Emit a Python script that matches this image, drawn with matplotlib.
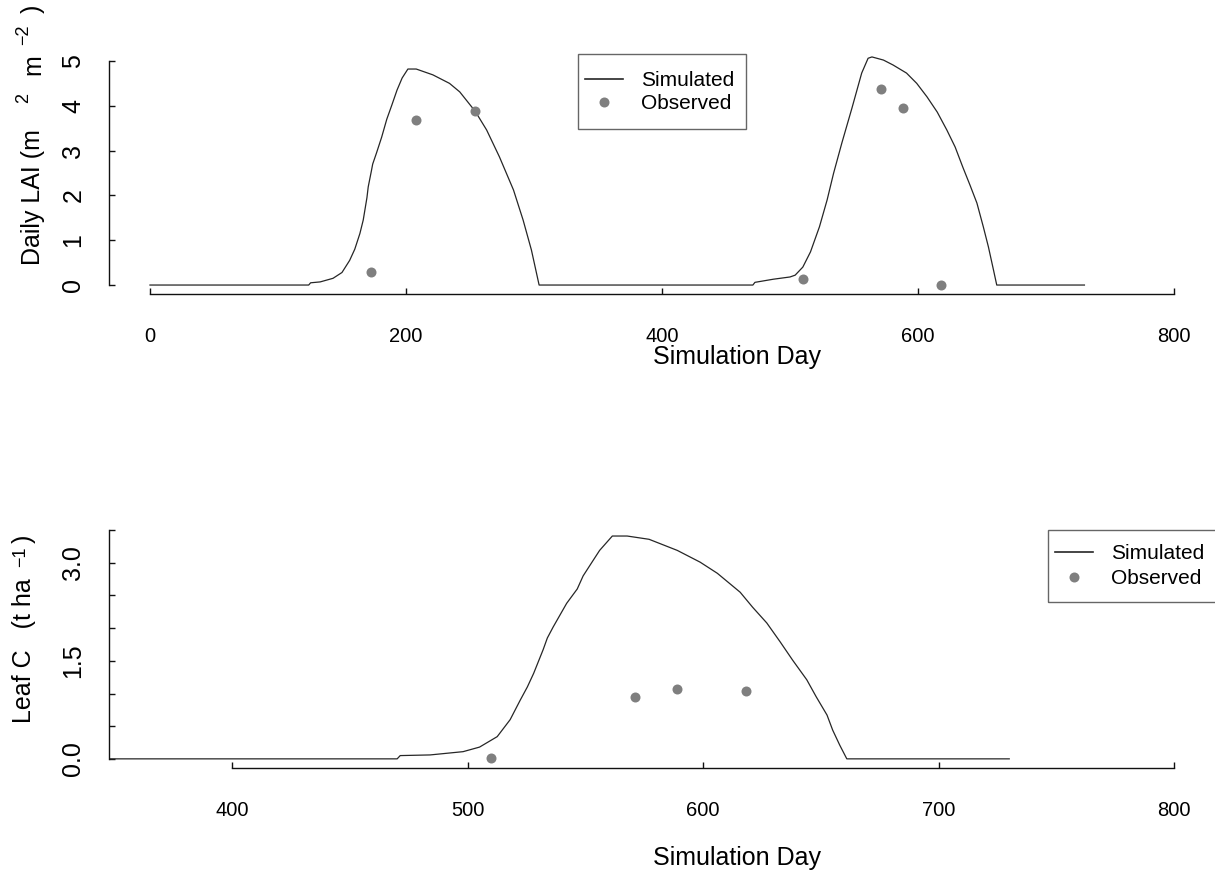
import numpy as np
import matplotlib
matplotlib.use("Agg")
import matplotlib.pyplot as plt
from matplotlib.lines import Line2D
from matplotlib.patches import Rectangle

plt.rcParams['font.family'] = ['Liberation Sans', 'DejaVu Sans']

# Daily LAI, simulated
lai_day = [0, 124, 125.5, 133, 143, 150, 156, 160, 164, 166.6, 169.5, 170.5, 173, 174,
           177, 181, 185, 189, 193, 197, 201.5, 208, 221, 234, 242, 254, 263, 273,
           284, 291.5, 298, 304,
           471, 472.6, 487, 500, 504, 510, 516, 523, 529, 534, 540.5, 548.4, 556,
           561, 564, 573, 580.5, 591, 599, 607, 615, 622.5, 629, 635, 640.6, 646,
           651, 655, 659, 661.5, 730]
lai_sim = [0, 0, 0.05, 0.07, 0.15, 0.28, 0.55, 0.8, 1.15, 1.45, 1.95, 2.19, 2.55, 2.7,
           2.95, 3.3, 3.7, 4.02, 4.35, 4.62, 4.82, 4.82, 4.69, 4.5, 4.31, 3.88, 3.46, 2.86,
           2.12, 1.45, 0.78, 0.0,
           0, 0.06, 0.13, 0.18, 0.22, 0.4, 0.74, 1.3, 1.9, 2.49, 3.17, 3.95, 4.73,
           5.06, 5.09, 5.02, 4.91, 4.73, 4.5, 4.2, 3.86, 3.46, 3.08, 2.63, 2.23, 1.83,
           1.3, 0.85, 0.33, 0.0, 0]

# Daily LAI, observed
lai_obs_day = [173, 208, 254, 510, 571, 588, 618]
lai_obs = [0.29, 3.68, 3.88, 0.13, 4.37, 3.95, 0.0]

# Leaf C, simulated
leafc_day = [305, 470, 471.3, 484, 498, 505, 512.5, 518, 522.3, 525.3, 528, 532, 533.8,
             536.3, 542, 546.5, 549, 553.3, 556, 561.4, 567.7, 577, 589, 598.7, 606,
             615.7, 621, 627, 632.7, 638, 644, 648, 652.6, 655, 658, 661, 730]
leafc_sim = [0, 0, 0.05, 0.06, 0.11, 0.18, 0.34, 0.6, 0.9, 1.1, 1.31, 1.67, 1.85,
             2.02, 2.38, 2.6, 2.8, 3.04, 3.19, 3.41, 3.41, 3.36, 3.19, 3.01, 2.84,
             2.55, 2.32, 2.08, 1.79, 1.51, 1.21, 0.95, 0.67, 0.44, 0.21, 0.0, 0]

# Leaf C, observed
leafc_obs_day = [510, 571, 589, 618]
leafc_obs = [0.02, 0.95, 1.07, 1.04]

W, H = 1215, 873
fig = plt.figure(figsize=(W / 100, H / 100), dpi=100)

line_col = '#262626'
pt_col = '#7f7f7f'


def px_box(x0, x1, y0, y1):
    return [x0 / W, 1 - y1 / H, (x1 - x0) / W, (y1 - y0) / H]


def r_style(ax):
    for s in ['top', 'right']:
        ax.spines[s].set_visible(False)
    for s in ['left', 'bottom']:
        ax.spines[s].set_linewidth(1.0)
        ax.spines[s].set_color('#111111')
    ax.tick_params(direction='in', length=4.5, width=1.0, color='#111111')
    ax.tick_params(axis='x', pad=24, labelsize=14.5)
    ax.tick_params(axis='y', pad=17, labelsize=18, labelrotation=90)
    for t in ax.get_yticklabels():
        t.set_va('center')


def rot_text(x, y, s, size):
    # rotated text anchored at its baseline start, in figure pixels
    fig.text(x / W, 1 - y / H, s, fontsize=size, rotation=90,
             rotation_mode='anchor', ha='left', va='baseline')


# ---- top panel: LAI ----
ax1 = fig.add_axes(px_box(109, 1215, 52, 294))
ax1.plot(lai_day, lai_sim, color=line_col, lw=0.9)
ax1.plot(lai_obs_day, lai_obs, 'o', color=pt_col, ms=7.2, mec='none')
ax1.set_xlim(-32, 832)
ax1.set_ylim(-0.2, 5.2)
ax1.set_xticks([0, 200, 400, 600, 800])
ax1.set_yticks([0, 1, 2, 3, 4, 5])
ax1.spines['bottom'].set_bounds(0, 800)
ax1.spines['left'].set_bounds(0, 5)
r_style(ax1)

# ---- bottom panel: Leaf C ----
ax2 = fig.add_axes(px_box(109, 1215, 521, 768))
ax2.plot(leafc_day, leafc_sim, color=line_col, lw=0.9)
ax2.plot(leafc_obs_day, leafc_obs, 'o', color=pt_col, ms=7.2, mec='none')
ax2.set_xlim(347.6, 817.4)
ax2.set_ylim(-0.14, 3.64)
ax2.set_xticks([400, 500, 600, 700, 800])
yt = np.arange(0, 3.51, 0.5)
ax2.set_yticks(yt)
ax2.set_yticklabels(['%.1f' % v if abs(v / 1.5 - round(v / 1.5)) < 1e-9 else '' for v in yt])
ax2.spines['bottom'].set_bounds(400, 800)
ax2.spines['left'].set_bounds(0, 3.5)
r_style(ax2)

# axis titles
fig.text(737 / W, 1 - 357 / H, 'Simulation Day', fontsize=18, ha='center', va='center')
fig.text(737 / W, 1 - 858 / H, 'Simulation Day', fontsize=18, ha='center', va='center')

# y titles built piece by piece like the R expression
rot_text(40, 265, 'Daily LAI (m', 18)
rot_text(28, 103, '2', 13)
rot_text(40, 75, 'm', 18)
rot_text(28, 45, '\u22122', 13)
rot_text(40, 13, ')', 18)

rot_text(31, 723, 'Leaf C   (t ha', 18)
rot_text(25, 567, '\u22121', 13)
rot_text(31, 543, ')', 18)

# legends (text + handles, frame drawn separately)
handles = [Line2D([], [], color=line_col, lw=1.2),
           Line2D([], [], marker='o', ls='none', color=pt_col, ms=7.2, mec='none')]
labels = ['Simulated', 'Observed']
for ax, (hx, hy, sp), box in [(ax1, (585, 71, 0.2), (578, 746, 54, 129)),
                              (ax2, (1055, 544, 0.3), (1048, 1230, 530, 602))]:
    leg = ax.legend(handles, labels, loc='upper left',
                    bbox_to_anchor=(hx / W, 1 - hy / H), bbox_transform=fig.transFigure,
                    frameon=False, fontsize=15, handlelength=1.8, handletextpad=0.9,
                    borderpad=0, labelspacing=sp, borderaxespad=0)
    x0, x1, y0, y1 = box
    fig.patches.append(Rectangle((x0 / W, 1 - y1 / H), (x1 - x0) / W, (y1 - y0) / H,
                                 transform=fig.transFigure, fill=False,
                                 edgecolor='#666666', lw=1.0))

fig.savefig('out.png', dpi=100)
